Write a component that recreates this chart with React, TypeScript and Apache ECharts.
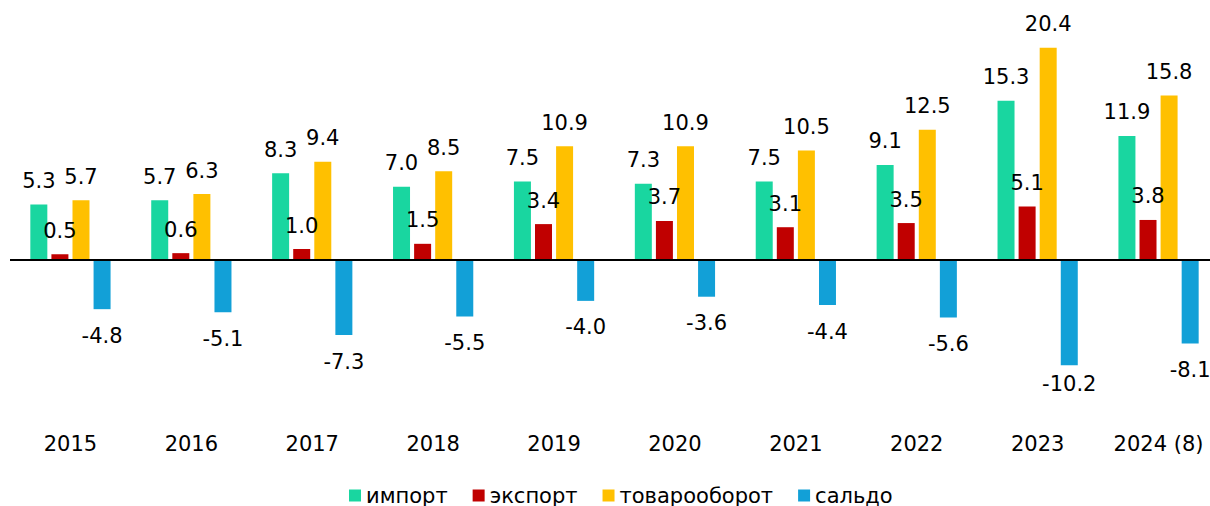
import React, { useEffect, useRef } from "react";
import * as echarts from "echarts";

const categories = ["2015", "2016", "2017", "2018", "2019", "2020", "2021", "2022", "2023", "2024 (8)"];
const importValues = [5.3, 5.7, 8.3, 7.0, 7.5, 7.3, 7.5, 9.1, 15.3, 11.9];
const exportValues = [0.5, 0.6, 1.0, 1.5, 3.4, 3.7, 3.1, 3.5, 5.1, 3.8];
const turnoverValues = [5.7, 6.3, 9.4, 8.5, 10.9, 10.9, 10.5, 12.5, 20.4, 15.8];
const balanceValues = [-4.8, -5.1, -7.3, -5.5, -4.0, -3.6, -4.4, -5.6, -10.2, -8.1];
const seriesNames = ["импорт", "экспорт", "товарооборот", "сальдо"];
const colors = ["#19D6A0", "#C00000", "#FFC000", "#12A0D7"];

const FONT = "DejaVu Sans, Verdana, sans-serif";

export default function App() {
  const ref = useRef<HTMLDivElement>(null);
  useEffect(() => {
    if (!ref.current) return;
    const chart = echarts.init(ref.current, null, { renderer: "svg" });
    const labelBase = {
      show: true,
      fontSize: 21,
      fontFamily: FONT,
      color: "#000",
      formatter: (p: any) => Number(p.value).toFixed(1),
    };
    const mk = (i: number, data: any[], pos: string, dist: number, extra: any = {}) => ({
      name: seriesNames[i],
      type: "bar",
      data,
      barWidth: 17,
      barGap: "24%",
      itemStyle: { color: colors[i] },
      label: { ...labelBase, position: pos, distance: dist },
      ...extra,
    });
    chart.setOption({
      animation: false,
      textStyle: { fontFamily: FONT },
      grid: { left: 10, width: 1209, top: -1, height: 416, containLabel: false },
      legend: {
        top: 485,
        left: 349,
        padding: 0,
        icon: "rect",
        itemWidth: 12,
        itemHeight: 12,
        itemGap: 25,
        textStyle: { fontSize: 21, fontFamily: FONT, color: "#000" },
        data: seriesNames,
      },
      xAxis: {
        type: "category",
        data: categories,
        axisLine: { show: false, onZero: false },
        axisTick: { show: false },
        axisLabel: { fontSize: 21, fontFamily: FONT, color: "#000", margin: 18 },
      },
      yAxis: {
        type: "value",
        min: -15,
        max: 25,
        show: false,
        splitLine: { show: false },
      },
      series: [
        mk(0, importValues, "top", 13),
        mk(1, exportValues, "top", 13),
        mk(2, turnoverValues, "top", 13),
        mk(
          3,
          balanceValues.map((v) => (v < -10 ? { value: v, label: { distance: 8 } } : v)),
          "bottom",
          16,
          {
            markLine: {
              silent: true,
              symbol: "none",
              label: { show: false },
              lineStyle: { color: "#000", width: 2, type: "solid" },
              data: [{ yAxis: 0 }],
            },
          }
        ),
      ],
    });
    return () => chart.dispose();
  }, []);
  return (
    <div
      style={{ position: "absolute", left: 0, top: 0, width: 1210, height: 506, overflow: "hidden", background: "#fff" }}
    >
      <div ref={ref} style={{ width: 1222, height: 506 }} />
    </div>
  );
}
